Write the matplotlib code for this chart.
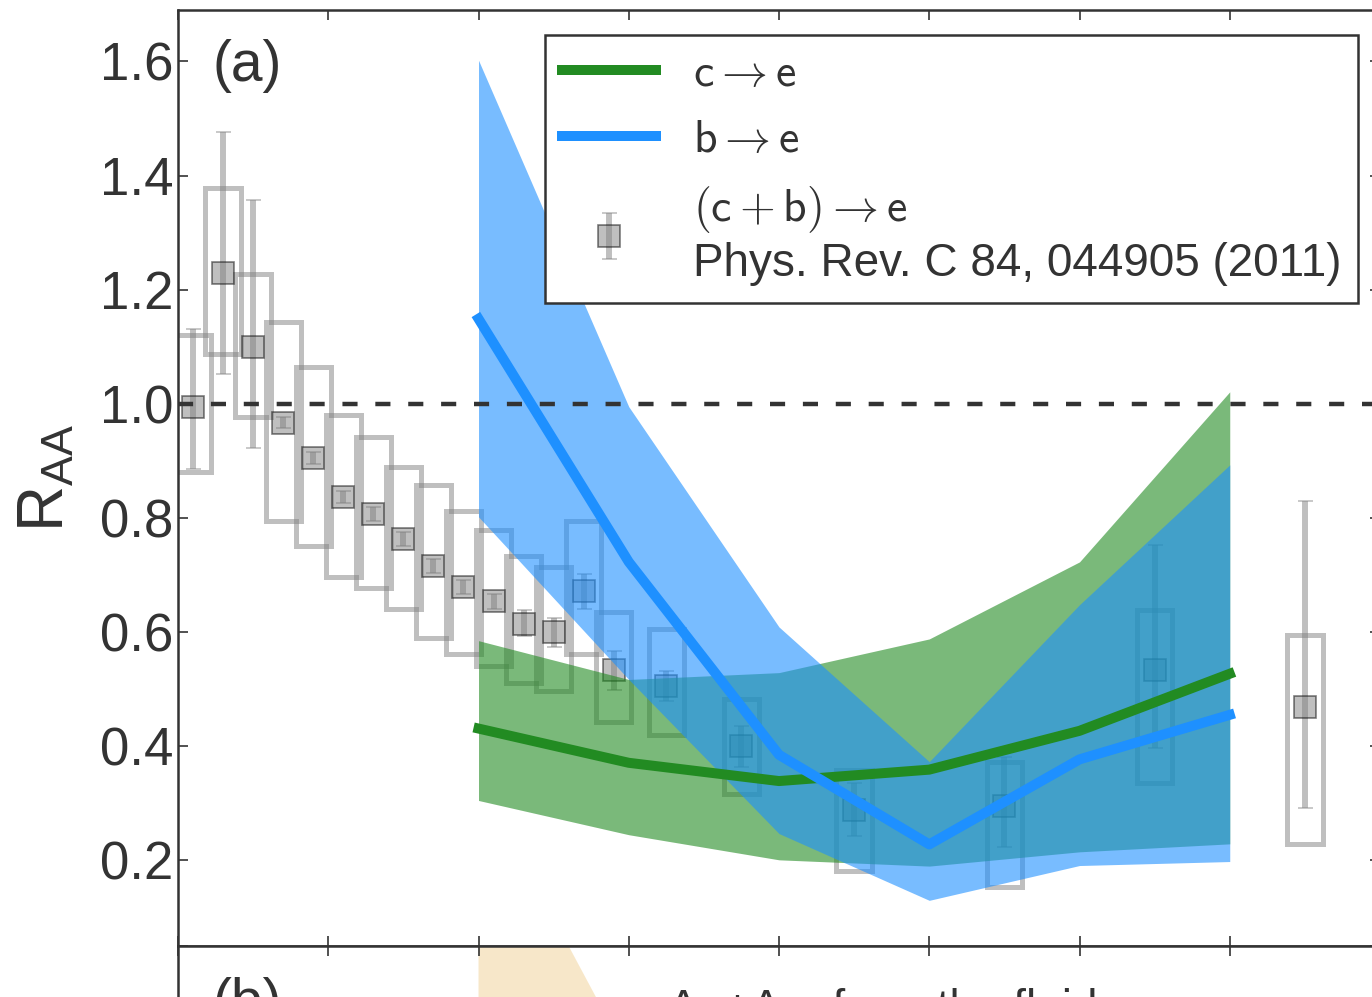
import matplotlib
matplotlib.use("Agg")
import matplotlib.pyplot as plt

plt.rcParams["font.family"] = ["Liberation Sans", "DejaVu Sans"]
plt.rcParams["mathtext.fontset"] = "cm"

DARK = "#333333"

# (c+b) -> e measurement, Phys. Rev. C 84, 044905 (2011)
pt_data = [0.1, 0.3, 0.5, 0.7, 0.9, 1.1, 1.3, 1.5, 1.7, 1.9, 2.1, 2.3, 2.5, 2.7, 2.9,
           3.25, 3.75, 4.5, 5.5, 6.5, 7.5]
raa_data = [0.995, 1.23, 1.10, 0.967, 0.905, 0.837, 0.807, 0.763, 0.716, 0.679, 0.654,
            0.615, 0.600, 0.672, 0.533, 0.506, 0.401, 0.289, 0.296, 0.533, 0.468]
stat_lo = [0.886, 1.053, 0.923, 0.957, 0.895, 0.826, 0.795, 0.751, 0.704, 0.667, 0.641,
           0.593, 0.574, 0.641, 0.499, 0.480, 0.364, 0.243, 0.224, 0.397, 0.292]
stat_hi = [1.131, 1.476, 1.357, 0.977, 0.915, 0.848, 0.819, 0.775, 0.728, 0.691, 0.667,
           0.638, 0.625, 0.702, 0.567, 0.532, 0.436, 0.336, 0.382, 0.753, 0.830]
sys_lo = [0.880, 1.088, 0.977, 0.795, 0.750, 0.697, 0.678, 0.641, 0.590, 0.562, 0.541,
          0.510, 0.496, 0.562, 0.443, 0.419, 0.317, 0.182, 0.154, 0.336, 0.228]
sys_hi = [1.120, 1.378, 1.228, 1.144, 1.065, 0.980, 0.942, 0.890, 0.858, 0.813, 0.779,
          0.734, 0.714, 0.795, 0.636, 0.606, 0.483, 0.359, 0.373, 0.638, 0.595]

# model curves with uncertainty bands
pt_model = [2, 3, 4, 5, 6, 7]
charm_raa = [0.431, 0.371, 0.339, 0.359, 0.427, 0.527]
charm_lo = [0.305, 0.245, 0.201, 0.190, 0.215, 0.229]
charm_hi = [0.585, 0.517, 0.529, 0.588, 0.723, 1.021]
bottom_raa = [1.149, 0.723, 0.385, 0.228, 0.377, 0.455]
bottom_lo = [0.802, 0.517, 0.247, 0.130, 0.191, 0.198]
bottom_hi = [1.602, 0.995, 0.609, 0.373, 0.648, 0.893]

# panel (b) band
pt_b = [2, 3]
band_b_lo = [0.0, 0.0]
band_b_hi = [1.18, 0.88]

W, H = 1372, 997


def style_axes(ax):
    for sp in ax.spines.values():
        sp.set_color(DARK)
        sp.set_linewidth(1.8)
    ax.tick_params(direction="in", length=7, width=1.2, color=DARK, labelcolor=DARK,
                   labelsize=38, top=True, right=True, pad=3.5)
    ax.set_xlim(0, 8)
    ax.set_xticks(range(0, 9))


def draw_panel_a(ax):
    style_axes(ax)
    ax.set_ylim(0.05, 1.69)
    ax.set_yticks([0.2, 0.4, 0.6, 0.8, 1.0, 1.2, 1.4, 1.6])
    ax.tick_params(axis="x", labelbottom=False)

    # systematic boxes, then stat errors
    heights = [h - l for l, h in zip(sys_lo, sys_hi)]
    ax.bar(pt_data, heights, bottom=sys_lo, width=0.235, fill=False, edgecolor="gray",
           alpha=0.5, linewidth=3.6, zorder=1)
    yerr = [[r - l for r, l in zip(raa_data, stat_lo)],
            [h - r for r, h in zip(raa_data, stat_hi)]]
    eb = ax.errorbar(pt_data, raa_data, yerr=yerr, fmt="s", color="gray", ms=16,
                     mfc="gray", mec="black", mew=1.2, elinewidth=4.3, capsize=5.4,
                     capthick=1.5, alpha=0.5, zorder=2)

    ax.fill_between(pt_model, charm_lo, charm_hi, color="forestgreen", alpha=0.6,
                    lw=0, zorder=3)
    ax.fill_between(pt_model, bottom_lo, bottom_hi, color="dodgerblue", alpha=0.6,
                    lw=0, zorder=4)
    line_c, = ax.plot(pt_model, charm_raa, color="forestgreen", lw=7.2, zorder=5)
    line_b, = ax.plot(pt_model, bottom_raa, color="dodgerblue", lw=7.2, zorder=6)
    ax.axhline(1.0, color=DARK, lw=3.2, dashes=(3.4, 4.0), zorder=7)

    ax.set_ylabel(r"$\mathregular{R_{AA}}$", fontsize=46, color=DARK)
    ax.yaxis.set_label_coords(-0.084, 0.5)
    ax.text(0.029, 0.969, "(a)", transform=ax.transAxes, fontsize=41, color=DARK,
            va="top", ha="left")

    labels = [r"$\mathsf{c}\rightarrow\mathsf{e}$",
              r"$\mathsf{b}\rightarrow\mathsf{e}$",
              "$(\\mathsf{c}+\\mathsf{b})\\rightarrow\\mathsf{e}$\nPhys. Rev. C 84, 044905 (2011)"]
    leg = ax.legend([line_c, line_b, eb], labels, loc="upper right",
                    bbox_to_anchor=(0.9817, 0.9733), borderaxespad=0, fontsize=33,
                    frameon=True, fancybox=False, edgecolor=DARK, framealpha=1,
                    handlelength=2.05, handletextpad=0.8, borderpad=0.37,
                    labelspacing=0.48)
    leg.get_frame().set_linewidth(1.8)
    leg.set_zorder(10)
    for t in leg.get_texts():
        t.set_color(DARK)


def draw_panel_b(ax):
    style_axes(ax)
    ax.set_ylim(0, 1)
    ax.tick_params(labelbottom=False, labelleft=False)
    ax.fill_between(pt_b, band_b_lo, band_b_hi, color="wheat", alpha=0.7, lw=0)
    ax.text(0.029, 0.967, "(b)", transform=ax.transAxes, fontsize=41, color=DARK,
            va="top", ha="left")
    ax.text(0.408, 0.955, "Au+Au, from the fluid", transform=ax.transAxes, fontsize=33,
            color=DARK, va="top", ha="left")


def main():
    fig = plt.figure(figsize=(W / 100, H / 100), dpi=100)
    ax_a = fig.add_axes([178 / W, 51 / H, 1202 / W, 936 / H])
    ax_b = fig.add_axes([178 / W, (51 - 936) / H, 1202 / W, 936 / H])
    draw_panel_b(ax_b)
    draw_panel_a(ax_a)
    fig.savefig("out.png", dpi=100)


if __name__ == "__main__":
    main()
